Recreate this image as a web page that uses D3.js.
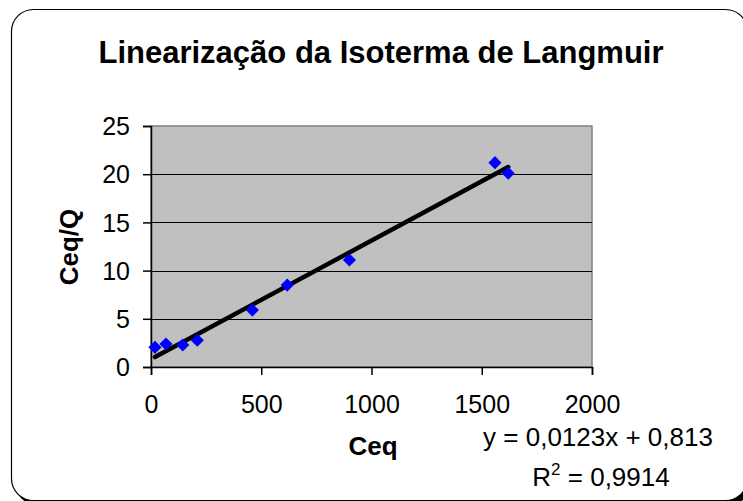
<!DOCTYPE html>
<html>
<head>
<meta charset="utf-8">
<script src="https://cdn.jsdelivr.net/npm/d3@7"></script>
<style>
  body { margin: 0; background: #fff; }
  svg text { font-family: "Liberation Sans", Arial, sans-serif; }
</style>
</head>
<body>
<div id="chart"></div>
<script>
// data
var ceq = [18, 68, 144, 210, 460, 618, 900, 1560, 1620];
var ceqQ = [2.04, 2.38, 2.28, 2.77, 5.9, 8.5, 11.1, 21.2, 20.1];
var xTicks = [0, 500, 1000, 1500, 2000];
var yTicks = [0, 5, 10, 15, 20, 25];
var slope = 0.0123, intercept = 0.813;

var W = 743, H = 501;
var plot = { left: 151, right: 592, top: 126, bottom: 367 };

var svg = d3.select("#chart").append("svg")
  .attr("width", W)
  .attr("height", H);

// frame with shadow
svg.append("rect")
  .attr("x", 15).attr("y", 13)
  .attr("width", 736).attr("height", 492)
  .attr("rx", 22).attr("ry", 22)
  .attr("fill", "#000");
svg.append("rect")
  .attr("x", 11.5).attr("y", 9.5)
  .attr("width", 736).attr("height", 491)
  .attr("rx", 22).attr("ry", 22)
  .attr("fill", "#fff")
  .attr("stroke", "#000")
  .attr("stroke-width", 1.2);

var x = d3.scaleLinear().domain([0, 2000]).range([plot.left, plot.right]);
var y = d3.scaleLinear().domain([0, 25]).range([plot.bottom, plot.top]);

// plot area
svg.append("rect")
  .attr("x", plot.left).attr("y", plot.top)
  .attr("width", plot.right - plot.left)
  .attr("height", plot.bottom - plot.top)
  .attr("fill", "#c0c0c0")
  .attr("stroke", "#808080")
  .attr("stroke-width", 1.5);

// gridlines
svg.append("g")
  .selectAll("line")
  .data(yTicks.filter(function(d) { return d > 0 && d < 25; }))
  .enter().append("line")
  .attr("x1", plot.left).attr("x2", plot.right)
  .attr("y1", function(d) { return Math.round(y(d)) + 0.5; })
  .attr("y2", function(d) { return Math.round(y(d)) + 0.5; })
  .attr("stroke", "#000")
  .attr("stroke-width", 1);

// axes
var xAxis = svg.append("g")
  .attr("transform", "translate(0," + plot.bottom + ")")
  .call(d3.axisBottom(x).tickValues(xTicks).tickSize(8).tickPadding(20).tickFormat(d3.format("d")));
var yAxis = svg.append("g")
  .attr("transform", "translate(" + plot.left + ",0)")
  .call(d3.axisLeft(y).tickValues(yTicks).tickSize(8).tickPadding(13).tickFormat(d3.format("d")));

[xAxis, yAxis].forEach(function(a) {
  a.select(".domain").attr("stroke", "#000").attr("stroke-width", 1.5);
  a.selectAll(".tick line").attr("stroke", "#000").attr("stroke-width", 1.5);
  a.selectAll("text")
    .attr("fill", "#000")
    .style("font-size", "25px")
    .style("font-family", "'Liberation Sans', Arial, sans-serif");
});
yAxis.selectAll("text").attr("dy", "0.35em");

// trend line
var xMin = d3.min(ceq), xMax = d3.max(ceq);
svg.append("line")
  .attr("x1", x(xMin)).attr("y1", y(slope * xMin + intercept))
  .attr("x2", x(xMax)).attr("y2", y(slope * xMax + intercept))
  .attr("stroke", "#000")
  .attr("stroke-width", 4.5)
  .attr("stroke-linecap", "round");

// markers
var diamond = d3.symbol().type(d3.symbolDiamond2).size(110);
svg.append("g")
  .selectAll("path")
  .data(ceq)
  .enter().append("path")
  .attr("d", diamond)
  .attr("transform", function(d, i) { return "translate(" + x(d) + "," + y(ceqQ[i]) + ")"; })
  .attr("fill", "#0000ff");

// titles
svg.append("text")
  .attr("x", 381).attr("y", 63)
  .attr("text-anchor", "middle")
  .style("font-size", "31px")
  .style("font-weight", "bold")
  .text("Linearização da Isoterma de Langmuir");

svg.append("text")
  .attr("x", 373).attr("y", 455)
  .attr("text-anchor", "middle")
  .style("font-size", "26px")
  .style("font-weight", "bold")
  .text("Ceq");

svg.append("text")
  .attr("transform", "translate(78,247) rotate(-90)")
  .attr("text-anchor", "middle")
  .style("font-size", "26px")
  .style("font-weight", "bold")
  .text("Ceq/Q");

// equation
svg.append("text")
  .attr("x", 598).attr("y", 446)
  .attr("text-anchor", "middle")
  .style("font-size", "26px")
  .text("y = 0,0123x + 0,813");

var r2 = svg.append("text")
  .attr("x", 601).attr("y", 486)
  .attr("text-anchor", "middle")
  .style("font-size", "26px");
r2.append("tspan").text("R");
r2.append("tspan").attr("dy", -11).style("font-size", "17px").text("2");
r2.append("tspan").attr("dy", 11).text(" = 0,9914");
</script>
</body>
</html>
